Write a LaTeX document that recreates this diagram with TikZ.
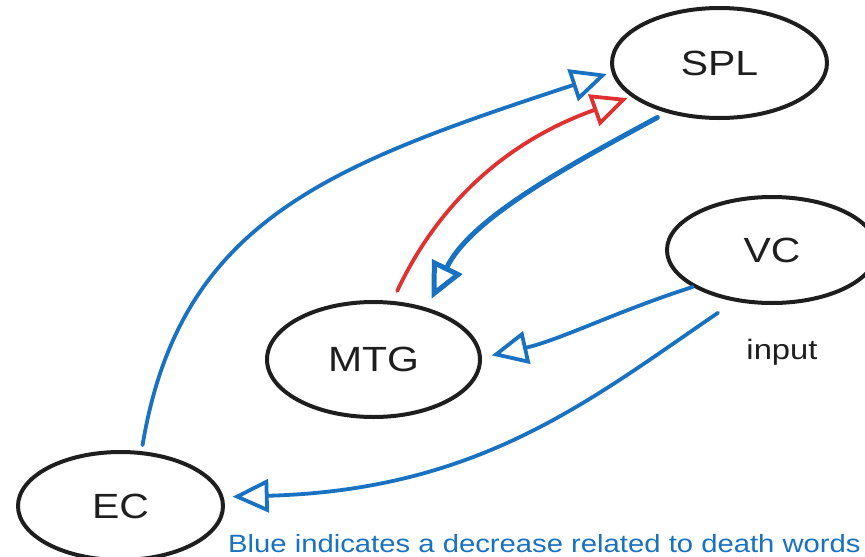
\documentclass[tikz,border=0pt]{standalone}
\usepackage{fontspec}
\setmainfont[FakeStretch=1.17]{Liberation Sans}
\usetikzlibrary{shapes.geometric,arrows.meta}
\definecolor{inkblue}{HTML}{1971C2}
\definecolor{inkred}{HTML}{E03131}
\definecolor{ink}{HTML}{1E1E1E}
\begin{document}
\begin{tikzpicture}[x=1pt,y=-1pt,
  state/.style={ellipse, draw=ink, line width=4pt, inner sep=0pt,
    font=\fontsize{35}{40}\selectfont, text=ink},
  opentip/.style={-{Triangle[open,length=36pt,width=33pt]}},
  flow/.style={draw=inkblue, line width=3.8pt, line cap=round, opentip},
  boost/.style={draw=inkred, line width=3.8pt, line cap=round, opentip},
]
\useasboundingbox (0,0) rectangle (865,557);

% variables
\node[state, minimum width=215pt, minimum height=110pt] (spl) at (719.5,63) {SPL};
\node[state, minimum width=210pt, minimum height=106pt] (vc)  at (772,250)  {VC};
\node[state, minimum width=213pt, minimum height=115pt] (mtg) at (373.5,359.5) {MTG};
\node[state, minimum width=205pt, minimum height=108pt] (ec)  at (120.5,506) {EC};

\node[font=\fontsize{28}{32}\selectfont, text=ink] (input) at (782,352) {input};

% influences
\draw[flow, shorten <=6pt, shorten >=5pt]
  (ec.69) .. controls (180,220) and (330,165) .. (spl.185);
\draw[flow, line width=5pt, shorten <=10pt, shorten >=10pt]
  (spl.223) .. controls (560,170) and (470,220) .. (mtg.44);
\draw[boost, shorten <=11pt, shorten >=4pt]
  (mtg.72) .. controls (440,200) and (510,140) .. (spl.201);
\draw[flow, shorten >=10pt]
  (vc.205) .. controls (620,310) and (560,340) .. (mtg.1);
\draw[flow, shorten <=20pt, shorten >=9pt]
  (vc.234) .. controls (590,400) and (480,490) .. (ec.5);

\node[anchor=base west, inner sep=0pt, text=inkblue,
  font=\fontsize{25}{30}\selectfont] (note) at (228,552)
  {Blue indicates a decrease related to death words};
\end{tikzpicture}
\end{document}
